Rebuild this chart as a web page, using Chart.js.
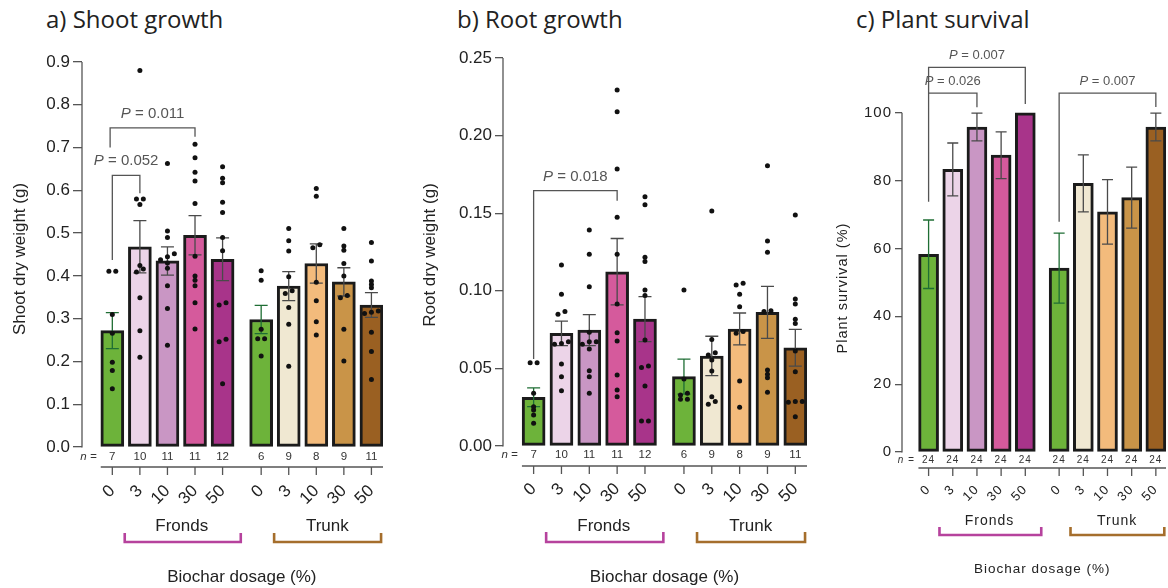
<!DOCTYPE html>
<html>
<head>
<meta charset="utf-8">
<script src="https://cdn.jsdelivr.net/npm/chart.js@4.4.1/dist/chart.umd.min.js"></script>
<style>
  body { margin: 0; background: #fff; width: 1168px; height: 588px; overflow: hidden; position: relative; }
  canvas { position: absolute; top: 0; }
  .ttl { position: absolute; top: 2px; font: 24px 'Open Sans', Lato, sans-serif; color: #222; white-space: nowrap; }
</style>
</head>
<body>
<div class="ttl" style="left:46px">a) Shoot growth</div>
<div class="ttl" style="left:457px">b) Root growth</div>
<div class="ttl" style="left:856px">c) Plant survival</div>
<canvas id="shoot" width="400" height="588" style="left:0"></canvas>
<canvas id="root" width="410" height="588" style="left:410px"></canvas>
<canvas id="survival" width="338" height="588" style="left:830px"></canvas>
<script>
// Biochar dosage trial: shoot / root dry weight and plant survival (mean ± SEM).

const dosageLabels = ['0', '3', '10', '30', '50', '0', '3', '10', '30', '50'];
const groupNames = ['Fronds', 'Trunk'];

const shootTicks = [0, 0.1, 0.2, 0.3, 0.4, 0.5, 0.6, 0.7, 0.8, 0.9];
const shootMeans = [0.272, 0.468, 0.435, 0.495, 0.439, 0.298, 0.376, 0.429, 0.386, 0.332];
const shootSem = [0.042, 0.061, 0.033, 0.046, 0.050, 0.033, 0.034, 0.046, 0.033, 0.029];
const shootN = [7, 10, 11, 11, 12, 6, 9, 8, 9, 11];
const shootDots = [
  [0.411, 0.411, 0.310, 0.266, 0.198, 0.179, 0.136],
  [0.880, 0.580, 0.580, 0.567, 0.424, 0.416, 0.409, 0.349, 0.272, 0.210],
  [0.663, 0.505, 0.490, 0.452, 0.445, 0.438, 0.430, 0.418, 0.377, 0.324, 0.238],
  [0.708, 0.676, 0.642, 0.622, 0.569, 0.446, 0.400, 0.390, 0.377, 0.337, 0.276],
  [0.655, 0.628, 0.618, 0.572, 0.548, 0.490, 0.459, 0.337, 0.332, 0.252, 0.246, 0.148],
  [0.412, 0.390, 0.275, 0.253, 0.253, 0.213],
  [0.511, 0.482, 0.458, 0.398, 0.365, 0.359, 0.326, 0.287, 0.189],
  [0.604, 0.586, 0.473, 0.466, 0.385, 0.342, 0.293, 0.262],
  [0.511, 0.470, 0.460, 0.429, 0.400, 0.354, 0.349, 0.275, 0.201],
  [0.478, 0.435, 0.388, 0.380, 0.372, 0.318, 0.315, 0.312, 0.268, 0.223, 0.158],
];
// [bar a, bar b, leg a end, leg b end, bracket top, P]
const shootBrackets = [
  [0, 1, 0.437, 0.593, 0.635, '0.052'],
  [-0.08, 3, 0.700, 0.725, 0.746, '0.011'],
];

const rootTicks = [0, 0.05, 0.10, 0.15, 0.20, 0.25];
const rootMeans = [0.0314, 0.0726, 0.0747, 0.1123, 0.0818, 0.0447, 0.0580, 0.0754, 0.0861, 0.0633];
const rootSem = [0.0060, 0.0079, 0.0100, 0.0214, 0.0145, 0.0113, 0.0127, 0.0103, 0.0167, 0.0118];
const rootN = [7, 10, 11, 11, 12, 6, 9, 8, 9, 11];
const rootDots = [
  [0.0537, 0.0537, 0.0340, 0.0253, 0.0232, 0.0200, 0.0146],
  [0.1166, 0.0977, 0.0866, 0.0849, 0.0672, 0.0660, 0.0655, 0.0528, 0.0447, 0.0356],
  [0.1392, 0.1235, 0.1026, 0.0733, 0.0672, 0.0672, 0.0655, 0.0625, 0.0485, 0.0447, 0.0340],
  [0.2294, 0.2154, 0.1785, 0.1474, 0.1235, 0.0915, 0.0730, 0.0677, 0.0457, 0.0361, 0.0318],
  [0.1606, 0.1555, 0.1216, 0.1188, 0.1005, 0.0969, 0.0683, 0.0515, 0.0505, 0.0387, 0.0161, 0.0161],
  [0.1005, 0.0432, 0.0340, 0.0329, 0.0301, 0.0301],
  [0.1514, 0.0687, 0.0601, 0.0586, 0.0554, 0.0483, 0.0318, 0.0286, 0.0269],
  [0.1048, 0.1037, 0.0977, 0.0898, 0.0737, 0.0726, 0.0419, 0.0249],
  [0.1806, 0.1321, 0.1248, 0.0872, 0.0866, 0.0490, 0.0462, 0.0440, 0.0346],
  [0.1488, 0.0947, 0.0915, 0.0816, 0.0790, 0.0612, 0.0479, 0.0286, 0.0282, 0.0286, 0.0189],
];
const rootBrackets = [
  [0, 3, 0.056, 0.158, 0.1645, '0.018'],
];

const survivalTicks = [0, 20, 40, 60, 80, 100];
const survivalMeans = [58.3, 83.3, 95.8, 87.5, 100, 54.2, 79.2, 70.8, 75.0, 95.8];
const survivalSem = [10.1, 7.8, 4.1, 6.9, 0, 10.3, 8.4, 9.5, 9.0, 4.1];
const survivalN = [24, 24, 24, 24, 24, 24, 24, 24, 24, 24];
const survivalBrackets = [
  [0, 2, 73.8, 101.6, 105.8, '0.026'],
  [0, 4, 105.8, 102.6, 113.4, '0.007'],
  [5.4, 9.4, 67.9, 101.7, 105.8, '0.007'],
];

const barColors = ['#6db33a', '#ecd4e8', '#c996c4', '#d55a9c', '#a8348a',
                   '#6db33a', '#f0e8d2', '#f3bb7c', '#c99448', '#9a6022'];
const errColors = ['#1f6e34', '#4a4a4a', '#4a4a4a', '#4a4a4a', '#4a4a4a',
                   '#1f6e34', '#4a4a4a', '#4a4a4a', '#4a4a4a', '#4a4a4a'];
const groupColors = ['#b6429d', '#a56e2c'];
const SANS = "'Liberation Sans', Arial, sans-serif";

// bar slot on the x axis: trunk group sits after a small gap
const xPos = (i) => i + (i >= 5 ? 0.4 : 0);

// put near-identical values side by side, like the original dot plot
function dotPoints(groups, tol) {
  const pts = [];
  groups.forEach((vals, i) => {
    const sorted = [...vals].sort((a, b) => a - b);
    let cluster = [];
    const flush = () => {
      cluster.forEach((v, j) => pts.push({ x: xPos(i) + (j - (cluster.length - 1) / 2) * 0.25, y: v }));
      cluster = [];
    };
    sorted.forEach((v) => {
      if (cluster.length && v - cluster[cluster.length - 1] >= tol) flush();
      cluster.push(v);
    });
    flush();
  });
  return pts;
}

function decor(o) {
  return {
    id: 'decor',
    beforeDraw(chart) {
      chart.ctx.letterSpacing = o.spacing + 'px';
    },
    afterDatasetDraw(chart, args) {
      if (args.index !== 1) return;
      const { ctx, scales: { x, y } } = chart;
      ctx.save();
      ctx.lineWidth = 1.3;
      o.means.forEach((m, i) => {
        const s = o.sem[i];
        if (!s) return;
        const px = x.getPixelForValue(xPos(i));
        const top = y.getPixelForValue(m + s), bot = y.getPixelForValue(m - s);
        ctx.strokeStyle = errColors[i];
        ctx.beginPath();
        ctx.moveTo(px, top); ctx.lineTo(px, bot);
        ctx.moveTo(px - o.cap, top); ctx.lineTo(px + o.cap, top);
        ctx.moveTo(px - o.cap, bot); ctx.lineTo(px + o.cap, bot);
        ctx.stroke();
      });
      ctx.restore();
    },
    afterDraw(chart) {
      const { ctx, chartArea: ca, scales: { x, y } } = chart;
      const b = ca.bottom;
      ctx.save();
      ctx.strokeStyle = '#555';
      ctx.lineWidth = 1.3;

      // y axis line, 0 to the top tick only
      ctx.beginPath();
      ctx.moveTo(ca.left, y.getPixelForValue(0) + 0.5);
      ctx.lineTo(ca.left, y.getPixelForValue(o.ticks[o.ticks.length - 1]));
      ctx.stroke();

      // x axis line sits under the n row
      const ax = b + o.axisOff;
      ctx.beginPath();
      ctx.moveTo(x.getPixelForValue(-0.42), ax);
      ctx.lineTo(ca.right, ax);
      dosageLabels.forEach((_, i) => {
        const px = x.getPixelForValue(xPos(i));
        ctx.moveTo(px, ax); ctx.lineTo(px, ax + 8);
      });
      ctx.stroke();

      // n = counts
      ctx.fillStyle = '#333';
      ctx.textBaseline = 'alphabetic';
      ctx.textAlign = 'right';
      ctx.font = `italic ${o.nFont}px ${SANS}`;
      ctx.fillText('n =', x.getPixelForValue(-0.57), b + o.nOff);
      ctx.textAlign = 'center';
      ctx.font = `${o.nFont}px ${SANS}`;
      o.n.forEach((n, i) => ctx.fillText(String(n), x.getPixelForValue(xPos(i)), b + o.nOff));

      // group labels with coloured brackets
      const groupSpan = [[0.45, 4.66, 2.52], [5.87, 9.75, 7.8]];
      ctx.font = `${o.grpFont}px ${SANS}`;
      ctx.fillStyle = '#222';
      groupNames.forEach((g, k) => {
        const [g0, g1, gc] = groupSpan[k];
        ctx.fillText(g, x.getPixelForValue(gc), b + o.grpOff);
        ctx.strokeStyle = groupColors[k];
        ctx.lineWidth = 2.6;
        ctx.beginPath();
        ctx.moveTo(x.getPixelForValue(g0), b + o.brOff - o.legH);
        ctx.lineTo(x.getPixelForValue(g0), b + o.brOff);
        ctx.lineTo(x.getPixelForValue(g1), b + o.brOff);
        ctx.lineTo(x.getPixelForValue(g1), b + o.brOff - o.legH);
        ctx.stroke();
      });

      // axis titles
      ctx.font = `${o.titleFont}px ${SANS}`;
      ctx.fillText('Biochar dosage (%)', x.getPixelForValue(4.7), b + o.titleOff);
      ctx.save();
      ctx.translate(o.yTitle[0], o.yTitle[1]);
      ctx.rotate(-Math.PI / 2);
      ctx.textBaseline = 'middle';
      ctx.font = `${o.yTitleFont}px ${SANS}`;
      ctx.fillText(o.yLabel, 0, 0);
      ctx.restore();

      // significance brackets
      ctx.letterSpacing = '0px';
      ctx.strokeStyle = '#555';
      ctx.lineWidth = 1.3;
      ctx.fillStyle = '#555';
      o.brackets.forEach(([a, c, ya, yc, top, p]) => {
        const xa = x.getPixelForValue(a), xc = x.getPixelForValue(c);
        const yt = y.getPixelForValue(top);
        ctx.beginPath();
        ctx.moveTo(xa, y.getPixelForValue(ya));
        ctx.lineTo(xa, yt);
        ctx.lineTo(xc, yt);
        ctx.lineTo(xc, y.getPixelForValue(yc));
        ctx.stroke();
        const it = `italic ${o.pFont}px ${SANS}`, rg = `${o.pFont}px ${SANS}`;
        ctx.font = it; const w1 = ctx.measureText('P').width;
        ctx.font = rg; const w2 = ctx.measureText(' = ' + p).width;
        const x0 = (xa + xc) / 2 - (w1 + w2) / 2, yy = yt - o.pOff;
        ctx.textAlign = 'left';
        ctx.font = it; ctx.fillText('P', x0, yy);
        ctx.font = rg; ctx.fillText(' = ' + p, x0 + w1, yy);
      });
      ctx.restore();
    },
  };
}

function panel(id, o) {
  const datasets = [
    {
      type: 'scatter',
      data: o.dots ? dotPoints(o.dots, o.tol) : [],
      pointRadius: 2.5,
      pointBackgroundColor: '#111',
      pointBorderWidth: 0,
      order: 0,
    },
    {
      type: 'bar',
      data: o.means.map((v, i) => ({ x: xPos(i), y: v })),
      backgroundColor: barColors,
      borderColor: '#1b1b1b',
      borderWidth: 3,
      borderSkipped: false,
      barThickness: o.barW,
      order: 1,
    },
  ];
  new Chart(document.getElementById(id), {
    type: 'bar',
    data: { datasets },
    options: {
      responsive: false,
      animation: false,
      devicePixelRatio: 1,
      layout: { padding: { top: o.padTop, right: o.padRight, left: 0, bottom: 0 } },
      plugins: { legend: { display: false }, tooltip: { enabled: false } },
      scales: {
        x: {
          type: 'linear', min: -1.1, max: 9.82, offset: false,
          afterBuildTicks: (s) => { s.ticks = dosageLabels.map((_, i) => ({ value: xPos(i) })); },
          // fixed height; rotated labels must not shrink the plot sideways
          afterFit: (s) => { s.height = o.xH; s.paddingLeft = 0; s.paddingRight = 0; },
          grid: { display: false, drawTicks: false },
          border: { display: false },
          ticks: {
            autoSkip: false, minRotation: 45, maxRotation: 45, padding: o.xPad,
            font: { size: o.xFont, family: SANS }, color: '#222',
            callback: (v, i) => dosageLabels[i],
          },
        },
        y: {
          min: 0, max: o.yMax,
          afterBuildTicks: (s) => { s.ticks = o.ticks.map((v) => ({ value: v })); },
          afterFit: (s) => { s.width = o.yW; },
          grid: { drawOnChartArea: false, tickLength: o.tickLen, color: '#555', lineWidth: 1.3 },
          border: { display: false },
          ticks: {
            padding: 3, font: { size: o.yFont, family: SANS }, color: '#222',
            callback: (v) => v.toFixed(o.dec),
          },
        },
      },
    },
    plugins: [decor(o)],
  });
}

panel('shoot', {
  means: shootMeans, sem: shootSem, n: shootN, dots: shootDots, tol: 0.008, brackets: shootBrackets,
  ticks: shootTicks, yMax: 0.9, dec: 1, yLabel: 'Shoot dry weight (g)', yTitle: [20, 259],
  padTop: 62, padRight: 17, yW: 82, xH: 141, barW: 23, cap: 6.5, tickLen: 9, spacing: 0,
  xPad: 34, xFont: 17, yFont: 17, nFont: 11.5, grpFont: 17, titleFont: 17, yTitleFont: 17, pFont: 15, pOff: 10,
  axisOff: 20, nOff: 13, grpOff: 84, brOff: 95, legH: 9, titleOff: 135,
});

panel('root', {
  means: rootMeans, sem: rootSem, n: rootN, dots: rootDots, tol: 0.002, brackets: rootBrackets,
  ticks: rootTicks, yMax: 0.25, dec: 2, yLabel: 'Root dry weight (g)', yTitle: [20, 255],
  padTop: 58, padRight: 13, yW: 93, xH: 142, barW: 23, cap: 6.5, tickLen: 8, spacing: 0,
  xPad: 33, xFont: 17, yFont: 17, nFont: 11.5, grpFont: 17, titleFont: 17, yTitleFont: 17, pFont: 15, pOff: 10,
  axisOff: 20, nOff: 12, grpOff: 85, brOff: 96, legH: 10, titleOff: 136,
});

panel('survival', {
  means: survivalMeans, sem: survivalSem, n: survivalN, dots: null, tol: 0, brackets: survivalBrackets,
  ticks: survivalTicks, yMax: 125, dec: 0, yLabel: 'Plant survival (%)', yTitle: [13, 288],
  padTop: 28, padRight: 2, yW: 72, xH: 136, barW: 20, cap: 5.5, tickLen: 7, spacing: 1,
  xPad: 30, xFont: 13, yFont: 15, nFont: 10, grpFont: 14, titleFont: 13.5, yTitleFont: 14.5, pFont: 13, pOff: 8,
  axisOff: 16, nOff: 11, grpOff: 73, brOff: 83, legH: 8, titleOff: 121,
});
</script>
</body>
</html>
